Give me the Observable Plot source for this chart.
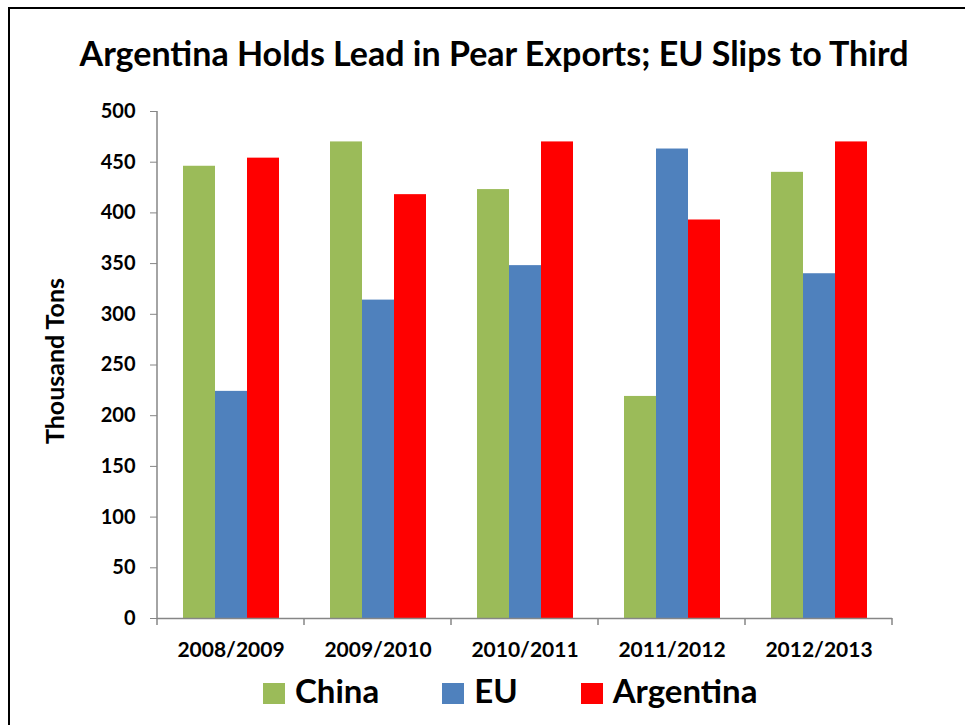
<!DOCTYPE html>
<html>
<head>
<meta charset="utf-8">
<script src="https://cdn.jsdelivr.net/npm/d3@7"></script>
<script src="https://cdn.jsdelivr.net/npm/@observablehq/plot@0.6"></script>
<style>
  body { margin: 0; background: #fff; font-family: Lato, "Open Sans", sans-serif; }
  #wrap { position: relative; width: 965px; height: 725px; overflow: hidden; background: #fff; }
  #frame { position: absolute; left: 8px; top: 7px; width: 1000px; height: 800px; border: 2px solid #000; box-sizing: border-box; }
  #title { position: absolute; left: 0; width: 988px; top: 36px; text-align: center; font-weight: bold; font-size: 34px; line-height: 1; white-space: nowrap; color: #000; }
  #ylabel { position: absolute; left: 54px; top: 361px; transform: translate(-50%, -50%) rotate(-90deg); font-weight: bold; font-size: 25px; line-height: 1; white-space: nowrap; color: #000; }
  #chart { position: absolute; left: 0; top: 0; }
  #legend { position: absolute; left: 263px; top: 674px; display: flex; align-items: flex-start; font-weight: bold; font-size: 33px; line-height: 1; white-space: nowrap; }
  .item { display: flex; align-items: flex-start; margin-right: 63px; }
  .sw { width: 22px; height: 21px; margin-top: 9px; margin-right: 10px; }
</style>
</head>
<body>
<div id="wrap">
  <div id="frame"></div>
  <div id="chart"></div>
  <div id="title">Argentina Holds Lead in Pear Exports; EU Slips to Third</div>
  <div id="ylabel">Thousand Tons</div>
  <div id="legend"></div>
</div>
<script>
const years = ["2008/2009", "2009/2010", "2010/2011", "2011/2012", "2012/2013"];
const seriesNames = ["China", "EU", "Argentina"];
const china = [446, 470, 423, 219, 440];
const eu = [224, 314, 348, 463, 340];
const argentina = [454, 418, 470, 393, 470];
const colors = ["#9BBB59", "#4F81BD", "#FF0000"];
const yTicks = [0, 50, 100, 150, 200, 250, 300, 350, 400, 450, 500];

const seriesValues = [china, eu, argentina];
const data = years.flatMap((yr, i) =>
  seriesValues.map((arr, j) => ({ year: yr, series: seriesNames[j], value: arr[i] }))
);

const plot = Plot.plot({
  width: 965,
  height: 680,
  marginTop: 111,
  marginBottom: 62,
  marginLeft: 155,
  marginRight: 71.5,
  style: { fontFamily: "Lato, 'Open Sans', sans-serif", background: "transparent", overflow: "visible", color: "#000" },
  fx: { domain: years, padding: 0, label: null },
  x: { domain: seriesNames, paddingInner: 0, paddingOuter: 0.738, axis: null },
  y: { domain: [0, 500] },
  color: { domain: seriesNames, range: colors },
  marks: [
    Plot.barY(data, { fx: "year", x: "series", y: "value", fill: "series" }),
    Plot.ruleY([0], { stroke: "#868686", strokeWidth: 1.5 }),
    Plot.axisY({ ticks: yTicks, tickSize: 7, tickPadding: 15, fontSize: 20, fontWeight: "bold", stroke: "#868686", fill: "#000", label: null }),
    Plot.axisFx({ anchor: "bottom", tickSize: 0, tickPadding: 24, fontSize: 21, fontWeight: "bold", fill: "#000", label: null })
  ]
});

// axis line and category boundary ticks, positioned from the plot's own scales
const fx = plot.scale("fx");
const ys = plot.scale("y");
const y0 = ys.apply(0), y500 = ys.apply(ys.domain[1]);
const bounds = years.map(d => fx.apply(d)).concat([fx.apply(years[years.length - 1]) + fx.bandwidth]);
const g = d3.select(plot).append("g").attr("stroke", "#868686").attr("stroke-width", 1.5);
g.append("line").attr("x1", bounds[0]).attr("x2", bounds[0]).attr("y1", y0).attr("y2", y500);
g.selectAll("line.t").data(bounds).join("line").attr("class", "t")
  .attr("x1", d => d).attr("x2", d => d).attr("y1", y0).attr("y2", y0 + 7);

document.getElementById("chart").appendChild(plot);

// legend from the color scale
const cs = plot.scale("color");
const legend = document.getElementById("legend");
cs.domain.forEach((name, i) => {
  const item = document.createElement("div");
  item.className = "item";
  const sw = document.createElement("div");
  sw.className = "sw";
  sw.style.background = cs.range[i];
  const lab = document.createElement("span");
  lab.textContent = name;
  item.appendChild(sw);
  item.appendChild(lab);
  legend.appendChild(item);
});
</script>
</body>
</html>
